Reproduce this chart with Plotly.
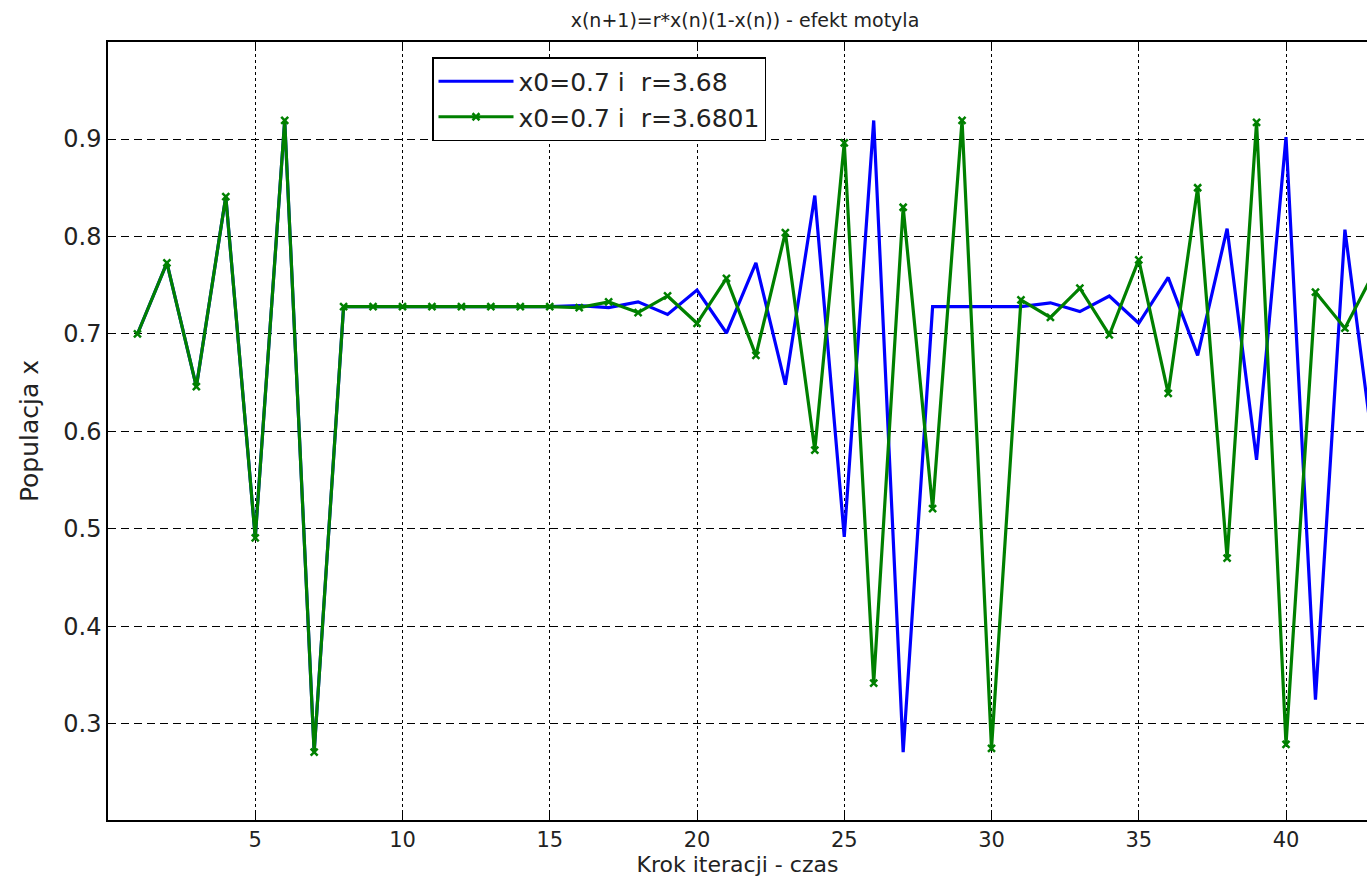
import plotly.graph_objects as go

steps = list(range(1, 44))

# r = 3.68 (blue line)
x_r368 = [0.700, 0.773, 0.646, 0.841, 0.491, 0.919, 0.271, 0.728, 0.728, 0.728,
          0.728, 0.728, 0.728, 0.728, 0.728, 0.729, 0.727, 0.733, 0.720, 0.745,
          0.701, 0.773, 0.648, 0.842, 0.492, 0.919, 0.271, 0.728, 0.728, 0.728,
          0.728, 0.732, 0.723, 0.739, 0.711, 0.758, 0.678, 0.808, 0.571, 0.902,
          0.325, 0.807, 0.573]

# r = 3.6801 (green line with x markers)
x_r36801 = [0.700, 0.773, 0.646, 0.841, 0.491, 0.919, 0.271, 0.728, 0.728, 0.728,
            0.728, 0.728, 0.728, 0.728, 0.728, 0.727, 0.733, 0.722, 0.739, 0.711,
            0.757, 0.678, 0.804, 0.581, 0.896, 0.342, 0.830, 0.521, 0.919, 0.275,
            0.735, 0.717, 0.747, 0.699, 0.776, 0.639, 0.850, 0.470, 0.917, 0.279,
            0.743, 0.706, 0.764]

x_ticks = [5, 10, 15, 20, 25, 30, 35, 40]
y_ticks = [0.3, 0.4, 0.5, 0.6, 0.7, 0.8, 0.9]

FONT = "DejaVu Sans, Liberation Sans, Arial, sans-serif"

fig = go.Figure()
fig.add_trace(go.Scatter(
    x=steps, y=x_r368, mode="lines", name="x0=0.7 i  r=3.68",
    line=dict(color="#0000FF", width=3.2)))
fig.add_trace(go.Scatter(
    x=steps, y=x_r36801, mode="lines+markers", name="x0=0.7 i  r=3.6801",
    line=dict(color="#008000", width=3.2),
    marker=dict(symbol="x-thin", size=7, color="#008000",
                line=dict(color="#008000", width=2.5))))

fig.update_layout(
    width=1367, height=879,
    margin=dict(l=108, r=0, t=42, b=59),
    paper_bgcolor="white", plot_bgcolor="white",
    font=dict(family=FONT, size=23, color="#222222"),
    title=dict(text="x(n+1)=r*x(n)(1-x(n)) - efekt motyla",
               x=745/1367, xanchor="center", xref="container",
               y=1 - 20/879, yanchor="middle",
               font=dict(family=FONT, size=19, color="#222222")),
    showlegend=True,
    legend=dict(x=(432-108)/1259, y=(820-57)/778, xanchor="left", yanchor="top",
                bordercolor="black", borderwidth=1.5, bgcolor="white",
                font=dict(size=25), itemwidth=75, tracegroupgap=0),
)

fig.update_xaxes(
    range=[0, 42.75], tickvals=x_ticks, ticks="inside", ticklen=7, tickwidth=1.2,
    tickcolor="black", showline=True, linecolor="black", linewidth=1.5,
    mirror="ticks", showgrid=True, gridcolor="black", gridwidth=1.2,
    griddash="3px,3px", zeroline=False, automargin=False,
    title=dict(text="Krok iteracji - czas", font=dict(size=22), standoff=0),
    tickfont=dict(size=21))
fig.update_yaxes(
    range=[0.2015, 0.9995], tickvals=y_ticks, tickformat=".1f", ticks="inside",
    ticklen=7, tickwidth=1.2, tickcolor="black", showline=True, linecolor="black",
    linewidth=1.5, mirror=False, showgrid=True, gridcolor="black", gridwidth=1.2,
    griddash="8px,5px", zeroline=False, automargin=False,
    title=dict(text="Populacja x", font=dict(size=25), standoff=18),
    tickfont=dict(size=24))

fig.write_html("out.html")
